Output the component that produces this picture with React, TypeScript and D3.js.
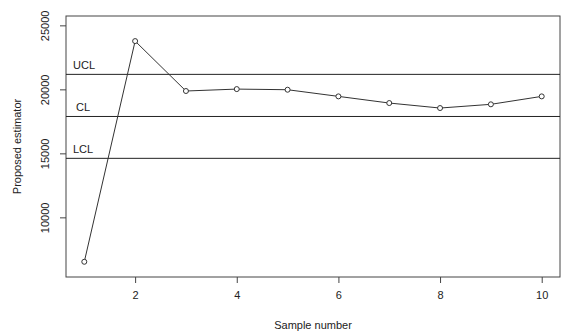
import React, { useEffect, useRef } from 'react';
import * as d3 from 'd3';

// sample estimates
const samples = [1, 2, 3, 4, 5, 6, 7, 8, 9, 10];
const estimates = [6530, 23770, 19870, 20020, 19970, 19450, 18930, 18540, 18830, 19450];
const limitNames = ['UCL', 'CL', 'LCL'];
const limitValues = [21170, 17880, 14610];
const xTicks = [2, 4, 6, 8, 10];
const yTicks = [10000, 15000, 20000, 25000];

const width = 562;
const height = 333;
const margin = { top: 16, right: 2, bottom: 56, left: 66 };

const App = () => {
  const chartRef = useRef<SVGSVGElement>(null);

  useEffect(() => {
    const svg = d3.select(chartRef.current);
    svg.selectAll('*').remove();

    const x = d3.scaleLinear()
      .domain([1 - 0.36, 10 + 0.36])
      .range([margin.left, width - margin.right]);

    const y = d3.scaleLinear()
      .domain([5340, 25730])
      .range([height - margin.bottom, margin.top]);

    const font = 'Arial, "Liberation Sans", sans-serif';

    // plot box
    svg.append('rect')
      .attr('x', margin.left)
      .attr('y', margin.top)
      .attr('width', width - margin.right - margin.left)
      .attr('height', height - margin.bottom - margin.top)
      .attr('fill', 'none')
      .attr('stroke', '#444')
      .attr('stroke-width', 1);

    // control limits
    const limits = limitNames.map((name, i) => ({ name, value: limitValues[i] }));
    svg.append('g')
      .selectAll('line')
      .data(limits)
      .join('line')
      .attr('x1', margin.left)
      .attr('x2', width - margin.right)
      .attr('y1', d => y(d.value))
      .attr('y2', d => y(d.value))
      .attr('stroke', '#222')
      .attr('stroke-width', 1);

    svg.append('g')
      .selectAll('text')
      .data(limits)
      .join('text')
      .attr('x', d => d.name === 'CL' ? 76 : 73)
      .attr('y', d => y(d.value) - 5)
      .attr('font-family', font)
      .attr('font-size', 11)
      .attr('fill', '#222')
      .text(d => d.name);

    // axes
    const xAxis = d3.axisBottom(x).tickValues(xTicks).tickSize(6).tickPadding(8).tickFormat(d3.format('d'));
    svg.append('g')
      .attr('transform', `translate(0, ${height - margin.bottom})`)
      .call(xAxis)
      .call(g => g.select('.domain').remove())
      .call(g => g.selectAll('line').attr('stroke', '#444'))
      .call(g => g.selectAll('text').attr('font-family', font).attr('font-size', 11).attr('fill', '#222'));

    const yAxis = d3.axisLeft(y).tickValues(yTicks).tickSize(6).tickFormat(d3.format('d'));
    const yg = svg.append('g')
      .attr('transform', `translate(${margin.left}, 0)`)
      .call(yAxis)
      .call(g => g.select('.domain').remove())
      .call(g => g.selectAll('line').attr('stroke', '#444'));
    yg.selectAll('text')
      .attr('font-family', font)
      .attr('font-size', 11)
      .attr('fill', '#222')
      .attr('x', null)
      .attr('dy', null)
      .attr('text-anchor', 'middle')
      .attr('transform', `translate(-17, 0) rotate(-90)`);

    // titles
    svg.append('text')
      .attr('x', (margin.left + width - margin.right) / 2)
      .attr('y', 329)
      .attr('text-anchor', 'middle')
      .attr('font-family', font)
      .attr('font-size', 11)
      .attr('fill', '#222')
      .text('Sample number');

    svg.append('text')
      .attr('transform', `translate(21, ${(margin.top + height - margin.bottom) / 2}) rotate(-90)`)
      .attr('text-anchor', 'middle')
      .attr('font-family', font)
      .attr('font-size', 11)
      .attr('fill', '#222')
      .text('Proposed estimator');

    // series
    const points = samples.map((s, i) => ({ s, v: estimates[i] }));
    const line = d3.line<{ s: number; v: number }>().x(d => x(d.s)).y(d => y(d.v));

    svg.append('path')
      .datum(points)
      .attr('d', line)
      .attr('fill', 'none')
      .attr('stroke', '#333')
      .attr('stroke-width', 1);

    svg.append('g')
      .selectAll('circle')
      .data(points)
      .join('circle')
      .attr('cx', d => x(d.s))
      .attr('cy', d => y(d.v))
      .attr('r', 2.5)
      .attr('fill', 'white')
      .attr('stroke', '#333')
      .attr('stroke-width', 1);
  });

  return (
    <svg
      ref={chartRef}
      width={width}
      height={height}
      viewBox={`0 0 ${width} ${height}`}
      style={{ position: 'absolute', left: 0, top: 0, background: 'white' }}
    />
  );
};

export default App;
